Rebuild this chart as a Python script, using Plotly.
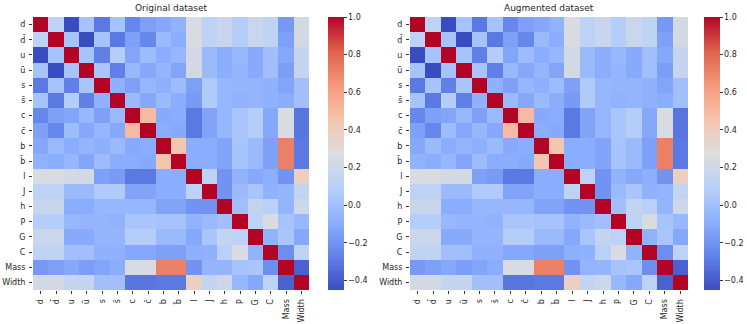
import plotly.graph_objects as go

LABELS = ["d", "d̄", "u", "ū", "s", "s̄", "c", "c̄", "b", "b̄",
          "l", "J", "h", "P", "G", "C", "Mass", "Width"]

# correlation matrices (rows follow LABELS)
ORIGINAL_CORR = [
    [1, .12, -.45, .02, -.3, .02, -.25, -.15, -.12, -.07, .25, .12, .17, .08, .18, .13, -.18, .22],
    [.12, 1, .02, -.45, .02, -.3, -.15, -.25, -.03, -.1, .25, .12, .17, .08, .18, .13, -.15, .22],
    [-.45, .02, 1, .02, -.28, .08, -.13, -.02, -.1, -.05, .22, -.03, -.1, -.04, -.11, 0, -.12, .16],
    [.02, -.45, .02, 1, .03, -.28, -.04, -.12, -.06, -.13, .22, -.03, -.1, -.06, -.11, 0, -.16, .16],
    [-.3, .02, -.28, .03, 1, -.08, -.15, -.05, -.09, -.02, -.15, .06, -.05, -.06, -.06, -.08, -.13, 0],
    [.02, -.3, .08, -.28, -.08, 1, -.03, -.12, -.03, -.1, -.17, .06, -.05, -.07, -.06, -.08, -.1, 0],
    [-.25, -.15, -.13, -.04, -.15, -.03, 1, .5, -.11, -.1, -.3, -.14, -.05, .03, .08, -.12, .25, -.31],
    [-.15, -.25, -.02, -.12, -.05, -.12, .5, 1, -.1, -.11, -.3, -.14, -.05, .03, .08, -.12, .25, -.31],
    [-.12, -.03, -.1, -.06, -.09, -.03, -.11, -.1, 1, .45, -.1, -.1, -.14, .02, -.03, -.15, .72, -.3],
    [-.07, -.1, -.05, -.13, -.02, -.1, -.1, -.11, .45, 1, -.1, -.1, -.14, .02, -.03, -.15, .72, -.3],
    [.25, .25, .22, .22, -.15, -.17, -.3, -.3, -.1, -.1, 1, .12, -.2, -.07, -.12, -.09, -.2, .38],
    [.12, .12, -.03, -.03, .06, .06, -.14, -.14, -.1, -.1, .12, 1, -.2, -.03, .03, -.08, -.06, .15],
    [.17, .17, -.1, -.1, -.05, -.05, -.05, -.05, -.14, -.14, -.2, -.2, 1, 0, .15, .1, -.06, .19],
    [.08, .08, -.04, -.06, -.06, -.07, .03, .03, .02, .02, -.07, -.03, 0, 1, .12, .25, .02, -.04],
    [.18, .18, -.11, -.11, -.06, -.06, .08, .08, -.03, -.03, -.12, .03, .15, .12, 1, -.07, .03, -.12],
    [.13, .13, 0, 0, -.08, -.08, -.12, -.12, -.15, -.15, -.09, -.08, .1, .25, -.07, 1, -.22, .12],
    [-.18, -.15, -.12, -.16, -.13, -.1, .25, .25, .72, .72, -.2, -.06, -.06, .02, .03, -.22, 1, -.38],
    [.22, .22, .16, .16, 0, 0, -.31, -.31, -.3, -.3, .38, .15, .19, -.04, -.12, .12, -.38, 1],
]

AUGMENTED_CORR = [
    [1, .12, -.45, .02, -.3, .02, -.25, -.15, -.12, -.07, .25, .12, .17, .08, .18, .13, -.18, .22],
    [.12, 1, .02, -.45, .02, -.3, -.15, -.25, -.03, -.1, .25, .12, .17, .08, .18, .13, -.15, .22],
    [-.45, .02, 1, .02, -.28, .08, -.13, -.02, -.1, -.05, .22, -.03, -.1, -.04, -.11, 0, -.12, .16],
    [.02, -.45, .02, 1, .03, -.28, -.04, -.12, -.06, -.13, .22, -.03, -.1, -.06, -.11, 0, -.16, .16],
    [-.3, .02, -.28, .03, 1, -.08, -.15, -.05, -.09, -.02, -.15, .06, -.05, -.06, -.06, -.08, -.13, 0],
    [.02, -.3, .08, -.28, -.08, 1, -.03, -.12, -.03, -.1, -.17, .06, -.05, -.07, -.06, -.08, -.1, 0],
    [-.25, -.15, -.13, -.04, -.15, -.03, 1, .5, -.11, -.1, -.3, -.14, -.05, .03, .08, -.12, .25, -.31],
    [-.15, -.25, -.02, -.12, -.05, -.12, .5, 1, -.1, -.11, -.3, -.14, -.05, .03, .08, -.12, .25, -.31],
    [-.12, -.03, -.1, -.06, -.09, -.03, -.11, -.1, 1, .45, -.1, -.1, -.14, .02, -.03, -.15, .72, -.3],
    [-.07, -.1, -.05, -.13, -.02, -.1, -.1, -.11, .45, 1, -.1, -.1, -.14, .02, -.03, -.15, .72, -.3],
    [.25, .25, .22, .22, -.15, -.17, -.3, -.3, -.1, -.1, 1, .12, -.2, -.07, -.12, -.09, -.2, .38],
    [.12, .12, -.03, -.03, .06, .06, -.14, -.14, -.1, -.1, .12, 1, -.2, -.03, .03, -.08, -.06, .15],
    [.17, .17, -.1, -.1, -.05, -.05, -.05, -.05, -.14, -.14, -.2, -.2, 1, 0, .15, .1, -.06, .19],
    [.08, .08, -.04, -.06, -.06, -.07, .03, .03, .02, .02, -.07, -.03, 0, 1, .12, .25, .02, -.04],
    [.18, .18, -.11, -.11, -.06, -.06, .08, .08, -.03, -.03, -.12, .03, .15, .12, 1, -.07, .03, -.12],
    [.13, .13, 0, 0, -.08, -.08, -.12, -.12, -.15, -.15, -.09, -.08, .1, .25, -.07, 1, -.22, .12],
    [-.18, -.15, -.12, -.16, -.13, -.1, .25, .25, .72, .72, -.2, -.06, -.06, .02, .03, -.22, 1, -.38],
    [.22, .22, .16, .16, 0, 0, -.31, -.31, -.3, -.3, .38, .15, .19, -.04, -.12, .12, -.38, 1],
]

TITLES = ["Original dataset", "Augmented dataset"]
CBAR_TICKS = [-0.4, -0.2, 0.0, 0.2, 0.4, 0.6, 0.8, 1.0]

COOLWARM = [
    [0.0, "#3b4cc0"], [0.125, "#6282ea"], [0.25, "#8db0fe"],
    [0.375, "#b8d0f9"], [0.5, "#dddddd"], [0.625, "#f5c4ad"],
    [0.75, "#f49a7b"], [0.875, "#de604d"], [1.0, "#b40426"],
]

W, H = 747, 324
FONT = "DejaVu Sans"
TEXT = "#262626"

# pixel boxes: (left, right) for each heatmap and its colorbar
PLOT_X = [(33, 309), (410, 688)]
CBAR_X = [328, 704]
TOP, BOTTOM = 17, 290


def fx(px):
    return px / W


def fy(py):
    return 1 - py / H


fig = go.Figure()
for i, (z, title) in enumerate(zip([ORIGINAL_CORR, AUGMENTED_CORR], TITLES)):
    sfx = "" if i == 0 else str(i + 1)
    fig.add_trace(go.Heatmap(
        z=z, x=LABELS, y=LABELS,
        xaxis="x" + sfx, yaxis="y" + sfx,
        coloraxis="coloraxis" + sfx,
        hovertemplate="%{y} / %{x}: %{z:.2f}<extra></extra>",
    ))
    axis_common = dict(
        showgrid=False, zeroline=False, showline=False, automargin=False,
        ticks="outside", ticklen=3, tickwidth=1, tickcolor="#333",
        ticklabelstandoff=2,
        tickfont=dict(family=FONT, size=8, color=TEXT),
        type="category",
    )
    fig.layout["xaxis" + sfx] = dict(
        axis_common, domain=[fx(PLOT_X[i][0]), fx(PLOT_X[i][1])],
        anchor="y" + sfx, tickangle=-90,
    )
    fig.layout["yaxis" + sfx] = dict(
        axis_common, domain=[fy(BOTTOM), fy(TOP)],
        anchor="x" + sfx, autorange="reversed",
    )
    fig.layout["coloraxis" + sfx] = dict(
        colorscale=COOLWARM, cmin=-0.45, cmax=1.0,
        colorbar=dict(
            x=fx(CBAR_X[i]), xanchor="left", xpad=0,
            y=fy(TOP), yanchor="top", ypad=0,
            len=(BOTTOM - TOP) / H, lenmode="fraction",
            thickness=16, outlinewidth=0,
            tickvals=CBAR_TICKS, tickformat=".1f",
            ticks="outside", ticklen=3, tickcolor="#333",
            tickfont=dict(family=FONT, size=8, color=TEXT),
        ),
    )
    fig.add_annotation(
        text=title, showarrow=False,
        x=(fx(PLOT_X[i][0]) + fx(PLOT_X[i][1])) / 2, y=fy(TOP) + 0.005,
        xref="paper", yref="paper", xanchor="center", yanchor="bottom",
        font=dict(family=FONT, size=9, color=TEXT),
    )

fig.update_layout(
    template="none",
    width=W, height=H,
    margin=dict(l=0, r=0, t=0, b=0, autoexpand=False),
    paper_bgcolor="white", plot_bgcolor="white",
    font=dict(family=FONT, color=TEXT),
)

# the page body has a default 8px margin; drop it so the figure fills the window
fig.write_html(
    "out.html",
    config={"displayModeBar": False},
    post_script="document.body.style.margin='0';document.body.style.padding='0';",
)
